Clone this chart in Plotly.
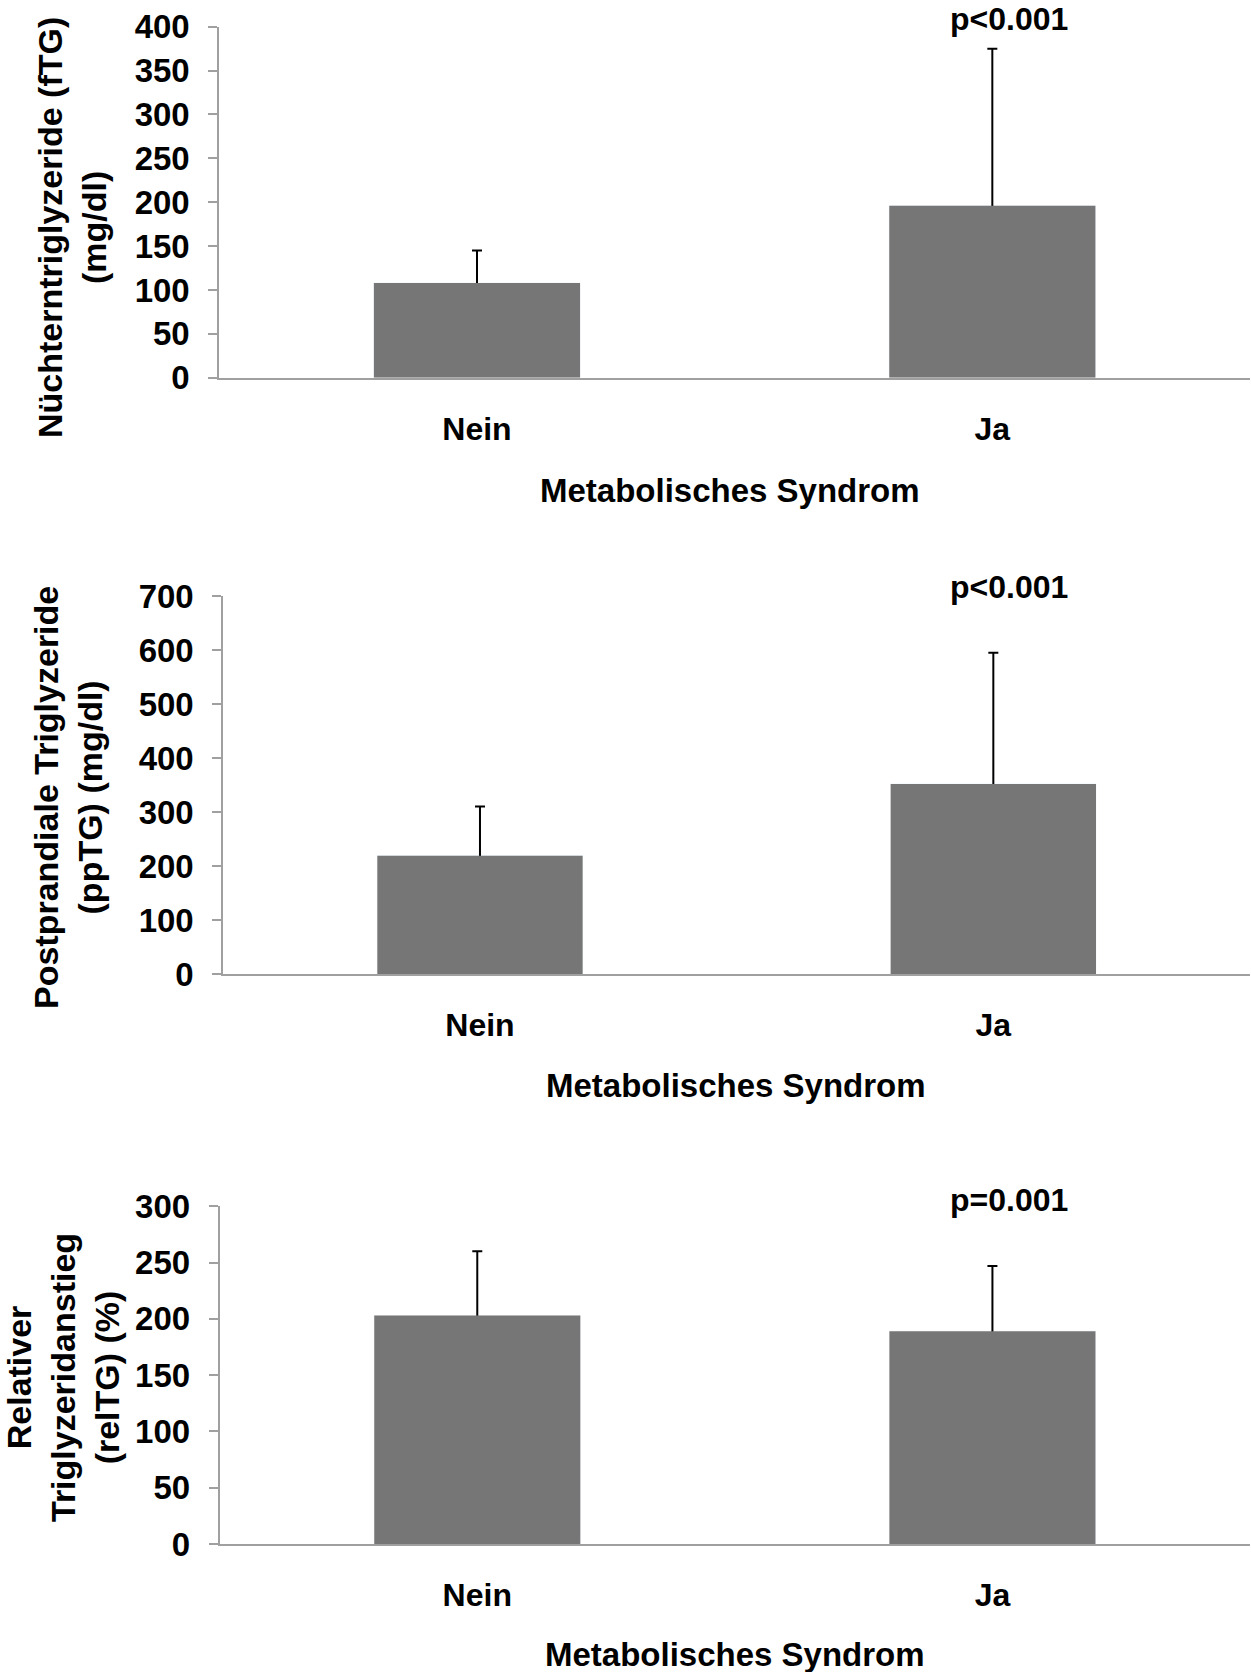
import plotly.graph_objects as go

# ---- data -------------------------------------------------------------
categories = ["Nein", "Ja"]

ftg_mean = [108, 196]      # Nüchterntriglyzeride (mg/dl)
ftg_sd = [37, 179]

pptg_mean = [219, 352]     # Postprandiale Triglyzeride (mg/dl)
pptg_sd = [91, 243]

reltg_mean = [203, 189]    # Relativer Triglyzeridanstieg (%)
reltg_sd = [57, 58]

p_values = ["p<0.001", "p<0.001", "p=0.001"]
y_titles = [
    "Nüchterntriglyzeride (fTG)<br>(mg/dl)",
    "Postprandiale Triglyzeride<br>(ppTG) (mg/dl)",
    "Relativer<br>Triglyzeridanstieg<br>(relTG) (%)",
]
x_title = "Metabolisches Syndrom"
y_ranges = [(0, 400, 50), (0, 700, 100), (0, 300, 50)]

# ---- layout helpers ---------------------------------------------------
W, H = 1251, 1672
FONT = "Liberation Sans, Arial, Helvetica, sans-serif"
BAR = "#767676"
AXIS = "#a0a0a0"


def px_x(v):
    return v / W


def px_y(v):
    return 1 - v / H


# plot-area boxes in pixels: (left, right, top, bottom)
boxes = [
    (219.3, 1250, 26.7, 377.7),
    (223.3, 1250, 596.0, 974.0),
    (219.7, 1250, 1206.2, 1544.0),
]
ytitle_pos = [(72, 228), (68, 798), (63, 1378)]
xtitle_pos = [(730, 490.6), (736, 1085.7), (735, 1654)]
p_pos = [(1009, 19), (1009, 587), (1009, 1200)]

fig = go.Figure()
series = [(ftg_mean, ftg_sd), (pptg_mean, pptg_sd), (reltg_mean, reltg_sd)]

annotations = []
for i, (means, sds) in enumerate(series):
    xa = "x" if i == 0 else f"x{i+1}"
    ya = "y" if i == 0 else f"y{i+1}"
    # transparent carrier for the error bars; the lower half is hidden
    # behind the solid bar drawn next, leaving only the upper whisker
    fig.add_trace(go.Bar(
        x=categories, y=means, xaxis=xa, yaxis=ya,
        marker=dict(color="rgba(0,0,0,0)"),
        error_y=dict(type="data", symmetric=True, array=sds,
                     color="black", thickness=2, width=5),
        showlegend=False, hoverinfo="skip",
    ))
    fig.add_trace(go.Bar(
        x=categories, y=means, xaxis=xa, yaxis=ya,
        marker=dict(color=BAR, line=dict(width=0)),
        showlegend=False,
    ))

    l, r, t, b = boxes[i]
    y0, y1, dt = y_ranges[i]
    xkey = "xaxis" if i == 0 else f"xaxis{i+1}"
    ykey = "yaxis" if i == 0 else f"yaxis{i+1}"
    fig.update_layout({
        xkey: dict(
            domain=[px_x(l), px_x(r)], anchor=ya,
            showline=True, linecolor=AXIS, linewidth=2,
            showgrid=False, zeroline=False, ticks="",
            tickfont=dict(family=FONT, size=32, color="black", weight="bold"),
            ticklabelstandoff=22,
        ),
        ykey: dict(
            domain=[px_y(b), px_y(t)], anchor=xa,
            range=[y0, y1], dtick=dt, tick0=0,
            showline=True, linecolor=AXIS, linewidth=2,
            ticks="outside", ticklen=9, tickwidth=2, tickcolor=AXIS,
            showgrid=False, zeroline=False,
            tickfont=dict(family=FONT, size=33, color="black", weight="bold"),
            ticklabelstandoff=12,
        ),
    })

    tx, ty = ytitle_pos[i]
    annotations.append(dict(
        text=y_titles[i], x=px_x(tx), y=px_y(ty), xref="paper", yref="paper",
        xanchor="center", yanchor="middle", textangle=-90, showarrow=False,
        font=dict(family=FONT, size=34, color="black", weight="bold"),
    ))
    gx, gy = xtitle_pos[i]
    annotations.append(dict(
        text=x_title, x=px_x(gx), y=px_y(gy), xref="paper", yref="paper",
        xanchor="center", yanchor="middle", showarrow=False,
        font=dict(family=FONT, size=33, color="black", weight="bold"),
    ))
    qx, qy = p_pos[i]
    annotations.append(dict(
        text=p_values[i], x=px_x(qx), y=px_y(qy), xref="paper", yref="paper",
        xanchor="center", yanchor="middle", showarrow=False,
        font=dict(family=FONT, size=32, color="black", weight="bold"),
    ))

fig.update_layout(
    width=W, height=H, autosize=False,
    margin=dict(l=0, r=0, t=0, b=0, autoexpand=False),
    paper_bgcolor="white", plot_bgcolor="white",
    barmode="overlay", bargap=0.6,
    annotations=annotations,
    showlegend=False,
)

fig.write_html("out.html")
